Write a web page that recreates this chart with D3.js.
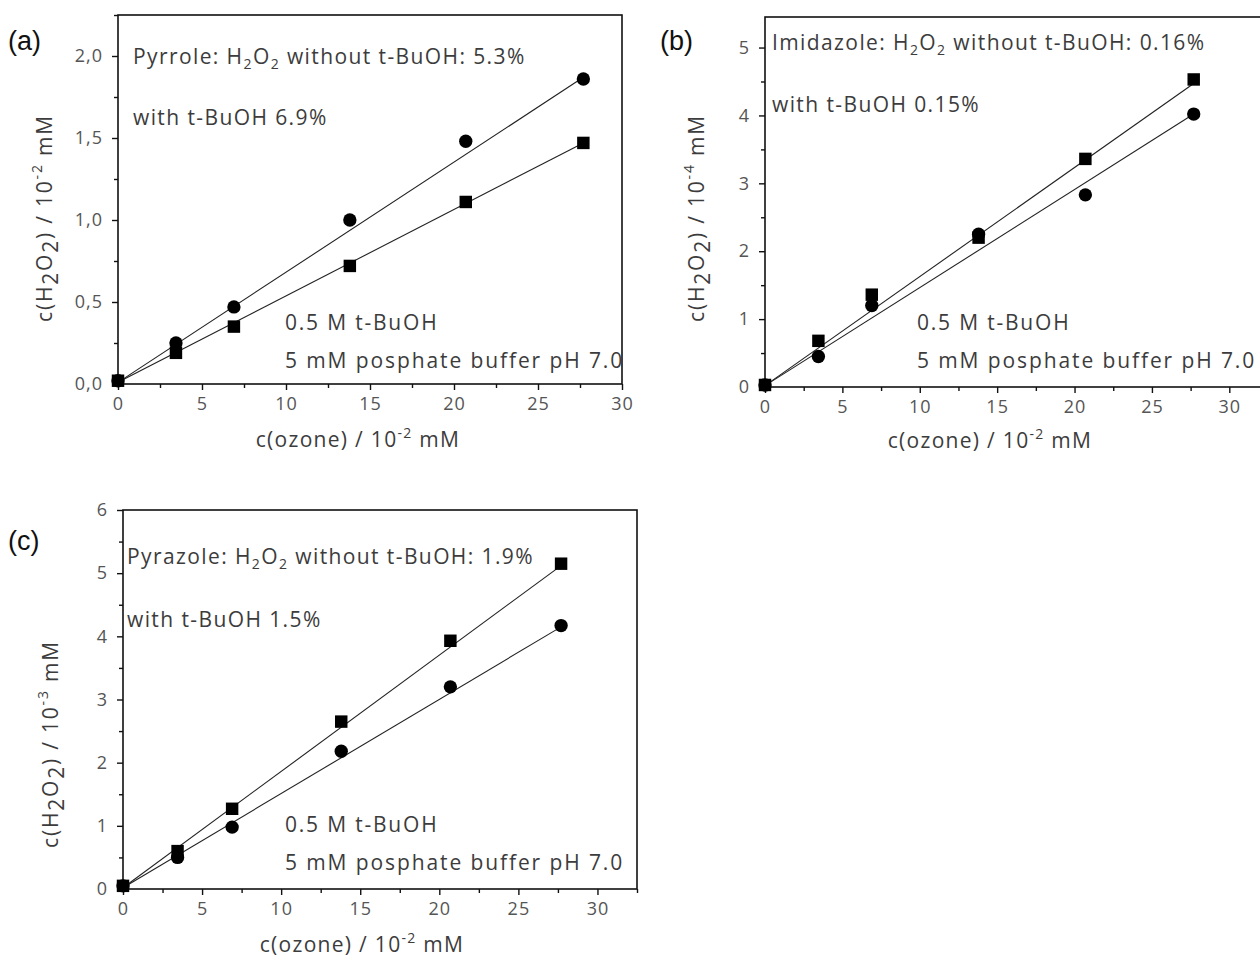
<!DOCTYPE html>
<html><head><meta charset="utf-8">
<script src="https://cdn.jsdelivr.net/npm/d3@7"></script>
<style>body{margin:0;background:#fff}svg{display:block}</style>
</head><body>
<svg id="c" width="1260" height="960"></svg>
<script>
// ---- data ----
const ozone = [0, 3.45, 6.9, 13.8, 20.7, 27.7];
const pyrroleCircle = [0.02, 0.25, 0.47, 1.00, 1.48, 1.86];
const pyrroleSquare = [0.02, 0.19, 0.35, 0.72, 1.11, 1.47];
const imidazoleSquare = [0.03, 0.68, 1.36, 2.20, 3.36, 4.53];
const imidazoleCircle = [0.03, 0.45, 1.20, 2.25, 2.83, 4.02];
const pyrazoleSquare = [0.05, 0.60, 1.27, 2.65, 3.93, 5.15];
const pyrazoleCircle = [0.05, 0.50, 0.98, 2.18, 3.20, 4.17];
const fitX = [0, 27.7];
const pyrroleCircleFit = [0.01, 1.87];
const pyrroleSquareFit = [0.01, 1.47];
const imidazoleSquareFit = [0.02, 4.47];
const imidazoleCircleFit = [0.02, 4.02];
const pyrazoleSquareFit = [0.02, 5.12];
const pyrazoleCircleFit = [0.02, 4.15];
const xTicks = [0, 5, 10, 15, 20, 25, 30];
const yTicksA = [0, 0.5, 1.0, 1.5, 2.0];
const yTicksB = [0, 1, 2, 3, 4, 5];
const yTicksC = [0, 1, 2, 3, 4, 5, 6];

const svg = d3.select("#c");
const FONT = "'Open Sans', 'Noto Sans', sans-serif";

function panel(o) {
  const g = svg.append("g");
  const x = d3.scaleLinear().domain(o.xd).range([o.left, o.right]);
  const y = d3.scaleLinear().domain(o.yd).range([o.bottom, o.top]);
  g.append("rect").attr("x", o.left).attr("y", o.top)
    .attr("width", o.right - o.left).attr("height", o.bottom - o.top)
    .attr("fill", "none").attr("stroke", "#111").attr("stroke-width", 1.6);
  const xMinor = d3.range(0, o.xd[1] + 0.001, 2.5).filter(v => v % 5 !== 0);
  const yMinor = d3.range(0, o.yd[1] + 0.001, o.yMinorStep).filter(v => !o.yTicks.some(t => Math.abs(t - v) < 1e-6));
  const xa = g.append("g").attr("transform", `translate(0,${o.bottom})`)
    .call(d3.axisBottom(x).tickValues(o.xTicks).tickSize(6).tickPadding(7).tickFormat(d3.format("d")));
  const xm = g.append("g").attr("transform", `translate(0,${o.bottom})`)
    .call(d3.axisBottom(x).tickValues(xMinor).tickSize(4).tickFormat(""));
  const ya = g.append("g").attr("transform", `translate(${o.left},0)`)
    .call(d3.axisLeft(y).tickValues(o.yTicks).tickSize(6).tickPadding(9).tickFormat(o.yFmt));
  const ym = g.append("g").attr("transform", `translate(${o.left},0)`)
    .call(d3.axisLeft(y).tickValues(yMinor).tickSize(4).tickFormat(""));
  [xa, xm, ya, ym].forEach(a => {
    a.select(".domain").remove();
    a.selectAll("line").attr("stroke", "#111").attr("stroke-width", 1.4);
    a.selectAll("text").attr("font-family", FONT).attr("font-size", 18)
      .attr("letter-spacing", 1).attr("fill", "#555");
  });
  const line = d3.line().x(d => x(d[0])).y(d => y(d[1]));
  o.fits.forEach(f => {
    g.append("path").datum(fitX.map((v, i) => [v, f[i]]))
      .attr("d", line).attr("fill", "none").attr("stroke", "#222").attr("stroke-width", 1.1);
  });
  const sq = d3.symbol().type(d3.symbolSquare).size(155);
  const ci = d3.symbol().type(d3.symbolCircle).size(140);
  g.selectAll(".sq").data(ozone.map((v, i) => [v, o.squares[i]])).join("path")
    .attr("d", sq).attr("transform", d => `translate(${x(d[0])},${y(d[1])})`).attr("fill", "#000");
  g.selectAll(".ci").data(ozone.map((v, i) => [v, o.circles[i]])).join("path")
    .attr("d", ci).attr("transform", d => `translate(${x(d[0])},${y(d[1])})`).attr("fill", "#000");
  g.append("text").attr("x", o.labX).attr("y", o.labY).text(o.label)
    .attr("font-family", "'Liberation Sans', Arial, sans-serif").attr("font-size", 27).attr("fill", "#111");
  const ann = (tx, ty, parts, ls) => {
    const t = g.append("text").attr("x", tx).attr("y", ty)
      .attr("font-family", FONT).attr("font-size", 21).attr("letter-spacing", ls || 1.4).attr("fill", "#3c3c3c");
    parts.forEach(p => {
      const s = t.append("tspan").text(p[0]);
      if (p[1] === "sub") s.attr("font-size", 14).attr("dy", 5);
      if (p[1] === "back") s.attr("dy", -5);
    });
  };
  ann(o.a1[0], o.a1[1], [[o.name + ": H"], ["2", "sub"], ["O", "back"], ["2", "sub"], [" without t-BuOH: " + o.p1, "back"]]);
  ann(o.a2[0], o.a2[1], [["with t-BuOH " + o.p2]]);
  ann(o.a3[0], o.a3[1], [["0.5 M t-BuOH"]], 1.8);
  ann(o.a3[0], o.a3[1] + 38, [["5 mM posphate buffer pH 7.0"]], 1.9);
  const xt = g.append("text").attr("x", o.xtX).attr("y", o.xtY).attr("text-anchor", "middle")
    .attr("font-family", FONT).attr("font-size", 21).attr("letter-spacing", 1.3).attr("fill", "#3c3c3c");
  xt.append("tspan").text("c(ozone) / 10");
  xt.append("tspan").text("-2").attr("font-size", 14).attr("dy", -9);
  xt.append("tspan").text(" mM").attr("dy", 9);
  const yt = g.append("text").attr("transform", `translate(${o.ytX},${o.ytY}) rotate(-90)`)
    .attr("text-anchor", "middle").attr("font-family", FONT).attr("font-size", 21)
    .attr("letter-spacing", 1.8).attr("fill", "#3c3c3c");
  yt.append("tspan").text("c(H");
  yt.append("tspan").text("2").attr("dy", 6);
  yt.append("tspan").text("O").attr("dy", -6);
  yt.append("tspan").text("2").attr("dy", 6);
  yt.append("tspan").text(") / 10").attr("dy", -6);
  yt.append("tspan").text(o.exp).attr("font-size", 14).attr("dy", -10);
  yt.append("tspan").text("  mM").attr("dy", 10);
}

panel({label: "(a)", labX: 8, labY: 50, name: "Pyrrole", p1: "5.3%", p2: "6.9%",
  left: 118, right: 622, top: 15, bottom: 384, xd: [0, 30], yd: [0, 2.25],
  xTicks: xTicks, yTicks: yTicksA, yMinorStep: 0.25, yFmt: d => d3.format(".1f")(d).replace(".", ","),
  squares: pyrroleSquare, circles: pyrroleCircle, fits: [pyrroleCircleFit, pyrroleSquareFit],
  a1: [133, 64], a2: [133, 125], a3: [285, 330],
  xtX: 358, xtY: 447, ytX: 52, ytY: 218, exp: "-2"});

panel({label: "(b)", labX: 660, labY: 50, name: "Imidazole", p1: "0.16%", p2: "0.15%",
  left: 765, right: 1268, top: 17, bottom: 387, xd: [0, 32.5], yd: [0, 5.45],
  xTicks: xTicks, yTicks: yTicksB, yMinorStep: 0.5, yFmt: d3.format("d"),
  squares: imidazoleSquare, circles: imidazoleCircle, fits: [imidazoleSquareFit, imidazoleCircleFit],
  a1: [772, 50], a2: [772, 112], a3: [917, 330],
  xtX: 990, xtY: 448, ytX: 704, ytY: 218, exp: "-4"});

panel({label: "(c)", labX: 8, labY: 550, name: "Pyrazole", p1: "1.9%", p2: "1.5%",
  left: 123, right: 637, top: 510, bottom: 889, xd: [0, 32.5], yd: [0, 6],
  xTicks: xTicks, yTicks: yTicksC, yMinorStep: 0.5, yFmt: d3.format("d"),
  squares: pyrazoleSquare, circles: pyrazoleCircle, fits: [pyrazoleSquareFit, pyrazoleCircleFit],
  a1: [127, 564], a2: [127, 627], a3: [285, 832],
  xtX: 362, xtY: 952, ytX: 58, ytY: 744, exp: "-3"});
</script>
</body></html>
